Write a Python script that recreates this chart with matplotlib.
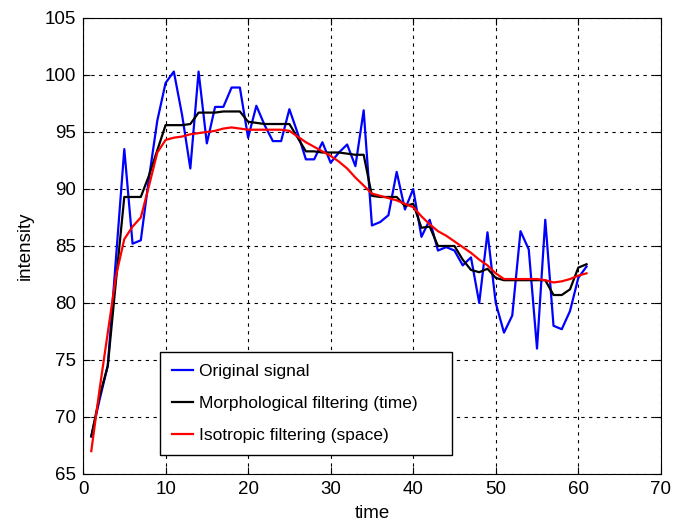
import matplotlib.pyplot as plt

plt.rcParams['font.family'] = ['Liberation Sans', 'DejaVu Sans']

# === Data ===
time = list(range(1, 62))

original = [68.3, 71.5, 74.5, 84.0, 93.5, 85.2, 85.5, 91.0, 96.0, 99.3,
            100.3, 96.5, 91.8, 100.3, 94.0, 97.2, 97.2, 98.9, 98.9, 94.5,
            97.3, 95.6, 94.2, 94.2, 97.0, 94.9, 92.6, 92.6, 94.1, 92.3,
            93.2, 93.9, 92.0, 96.9, 86.8, 87.1, 87.7, 91.5, 88.2, 90.0,
            85.8, 87.3, 84.6, 84.9, 84.6, 83.3, 84.0, 80.0, 86.2, 80.0,
            77.4, 78.9, 86.3, 84.7, 76.0, 87.3, 78.0, 77.7, 79.3, 82.2,
            83.2]

morph = [68.3, 71.8, 74.5, 82.0, 89.3, 89.3, 89.3, 91.2, 93.4, 95.6,
         95.6, 95.6, 95.7, 96.7, 96.7, 96.7, 96.8, 96.8, 96.8, 95.9,
         95.8, 95.7, 95.7, 95.7, 95.7, 94.5, 93.3, 93.3, 93.2, 93.2,
         93.2, 93.1, 93.0, 93.0, 89.4, 89.3, 89.3, 89.3, 88.5, 88.7,
         86.6, 86.7, 85.0, 85.0, 85.0, 83.8, 82.9, 82.7, 83.0, 82.2,
         82.0, 82.0, 82.0, 82.0, 82.0, 82.0, 80.7, 80.7, 81.2, 83.1,
         83.4]

isotropic = [67.0, 72.4, 77.4, 82.4, 85.6, 86.7, 87.5, 90.3, 93.2, 94.3,
             94.5, 94.6, 94.8, 94.9, 95.0, 95.1, 95.3, 95.4, 95.3, 95.2,
             95.2, 95.2, 95.2, 95.2, 95.1, 94.6, 94.1, 93.7, 93.3, 92.9,
             92.4, 91.8, 91.0, 90.3, 89.6, 89.4, 89.2, 89.0, 88.7, 88.4,
             87.6, 86.9, 86.3, 85.9, 85.4, 84.9, 84.4, 83.8, 83.3, 82.6,
             82.1, 82.1, 82.1, 82.1, 82.1, 82.0, 81.8, 81.9, 82.1, 82.4,
             82.6]

# === Figure ===
fig = plt.figure(figsize=(6.75, 5.29), dpi=100)
ax = fig.add_axes([0.123, 0.104, 0.856, 0.862])

ax.plot(time, original, color='#0000ff', lw=1.6, label='Original signal')
ax.plot(time, morph, color='black', lw=1.6, label='Morphological filtering (time)')
ax.plot(time, isotropic, color='#ff0000', lw=1.6, label='Isotropic filtering (space)')

ax.set_xlim(0, 70)
ax.set_ylim(65, 105)
ax.set_xticks(range(0, 71, 10))
ax.set_yticks(range(65, 106, 5))
ax.grid(True, color='black', linestyle=(0, (3, 4)), linewidth=0.8)
ax.tick_params(direction='in', top=True, right=True, labelsize=13.5, length=5, pad=5)
ax.set_xlabel('time', fontsize=13.5, labelpad=5)
ax.set_ylabel('intensity', fontsize=13.5, labelpad=8)

leg = ax.legend(loc='lower left', bbox_to_anchor=(0.133, 0.042, 0.505, 0.234),
                mode='expand', fontsize=12.5, fancybox=False, framealpha=1,
                edgecolor='black', handlelength=1.2, handletextpad=0.35,
                labelspacing=0.95, borderaxespad=0, borderpad=0.7)
leg.get_frame().set_linewidth(1.0)

fig.savefig('out.png')
